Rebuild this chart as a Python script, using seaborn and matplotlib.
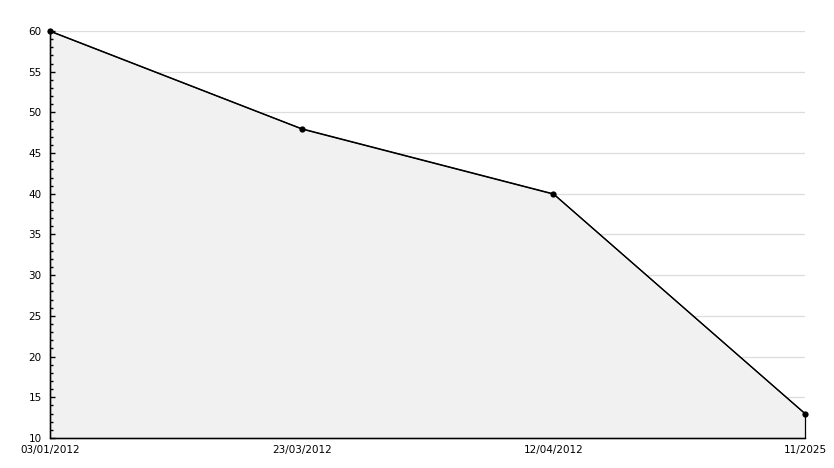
import matplotlib
matplotlib.use("Agg")
import matplotlib.pyplot as plt
import seaborn as sns
import pandas as pd
from matplotlib.ticker import MultipleLocator

dates = ["03/01/2012", "23/03/2012", "12/04/2012", "11/2025"]
values = [60, 48, 40, 13]

df = pd.DataFrame({"date": dates, "value": values})

sns.set_theme(style="ticks")
plt.rcParams["font.family"] = ["DejaVu Sans"]

fig = plt.figure(figsize=(8.34, 4.68), dpi=100)
ax = fig.add_axes([50 / 834, 1 - 438 / 468, 755 / 834, 407 / 468])

# area under the line, outlined in black (shows as the closing edge on the right)
ax.fill_between(df["date"], df["value"], 10, facecolor="#f1f1f1", edgecolor="black",
                linewidth=0.9, zorder=1, clip_on=False)
sns.lineplot(data=df, x="date", y="value", ax=ax, color="black", linewidth=0.9,
             marker="o", markersize=4.5, markeredgewidth=0, zorder=3, clip_on=False)

ax.set_xlim(0, len(dates) - 1)
ax.set_ylim(10, 60)
ax.yaxis.set_major_locator(MultipleLocator(5))
ax.yaxis.set_minor_locator(MultipleLocator(1))

# seaborn puts the axis below everything; ticks must sit on top of the fill
ax.set_axisbelow(False)
grid_y = [t for t in ax.get_yticks() if 10 < t <= 60]
ax.hlines(grid_y, 0, len(dates) - 1, color="#dddddd", linewidth=0.9, zorder=0.5)

for side in ["top", "right"]:
    ax.spines[side].set_visible(False)
for side in ["left", "bottom"]:
    ax.spines[side].set_color("black")
    ax.spines[side].set_linewidth(1.0)

ax.tick_params(axis="y", which="major", direction="in", length=3.8, width=1, color="black",
               labelsize=7.5, pad=6, left=True, labelcolor="black")
ax.tick_params(axis="y", which="minor", direction="in", length=2.3, width=1, color="black", left=True)
ax.tick_params(axis="x", which="both", bottom=False, length=0, labelsize=7.5, pad=5, labelcolor="black")
ax.set_xlabel("")
ax.set_ylabel("")

fig.savefig("out.png", dpi=100, facecolor="white")
